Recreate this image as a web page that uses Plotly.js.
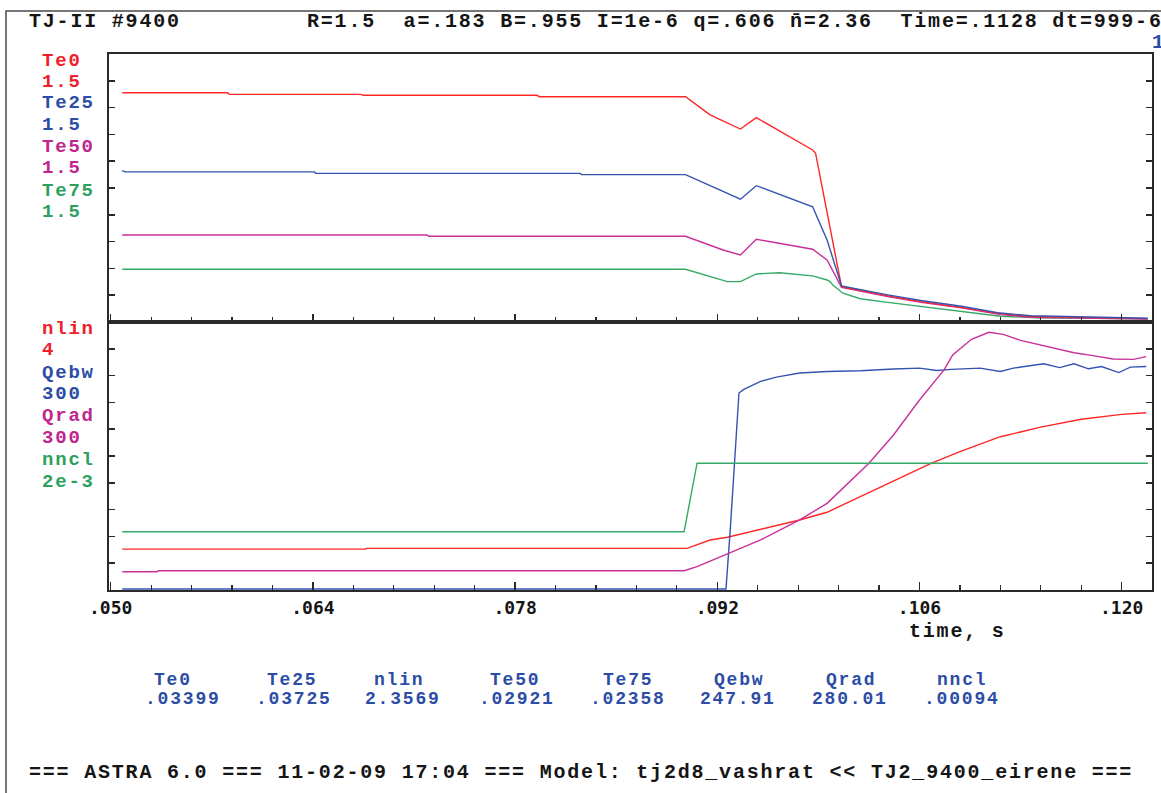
<!DOCTYPE html>
<html>
<head>
<meta charset="utf-8">
<script src="https://cdn.plot.ly/plotly-3.0.1.min.js"></script>
<style>
  html, body { margin: 0; padding: 0; background: #ffffff; overflow: hidden; }
  #chart { width: 1161px; height: 793px; }
  .annotation-text { letter-spacing: 1.8px; }
</style>
</head>
<body>
<div id="chart"></div>
<script>
// ---------------- DATA ----------------
// Top panel: electron temperatures (scale 1.5 for all)
const te0Time  = [0.0508, 0.0581, 0.0582, 0.0673, 0.0675, 0.0795, 0.0797, 0.0898, 0.0915, 0.0936, 0.0947, 0.0986, 0.0988, 0.1006, 0.1038, 0.1061, 0.1089, 0.1116, 0.1137, 0.1174, 0.1218];
const te0Val   = [1.283, 1.283, 1.274, 1.274, 1.269, 1.269, 1.261, 1.261, 1.159, 1.080, 1.144, 0.963, 0.946, 0.198, 0.146, 0.114, 0.082, 0.047, 0.031, 0.025, 0.019];

const te25Time = [0.0508, 0.0510, 0.0641, 0.0642, 0.0825, 0.0826, 0.0898, 0.0936, 0.0947, 0.0986, 0.0996, 0.1006, 0.1038, 0.1061, 0.1089, 0.1116, 0.1137, 0.1174, 0.1218];
const te25Val  = [0.847, 0.840, 0.840, 0.832, 0.832, 0.825, 0.825, 0.687, 0.763, 0.645, 0.459, 0.202, 0.152, 0.120, 0.088, 0.050, 0.035, 0.028, 0.021];

const te50Time = [0.0508, 0.0719, 0.0720, 0.0898, 0.0924, 0.0936, 0.0947, 0.0954, 0.0986, 0.0996, 0.1006, 0.1038, 0.1061, 0.1089, 0.1116, 0.1137, 0.1174, 0.1218];
const te50Val  = [0.487, 0.487, 0.480, 0.480, 0.403, 0.375, 0.463, 0.453, 0.407, 0.347, 0.194, 0.142, 0.110, 0.079, 0.041, 0.027, 0.022, 0.017];

const te75Time = [0.0508, 0.0898, 0.0927, 0.0936, 0.0947, 0.0963, 0.0986, 0.0996, 0.0998, 0.1000, 0.1007, 0.1019, 0.1038, 0.1061, 0.1089, 0.1116, 0.1142, 0.1218];
const te75Val  = [0.295, 0.295, 0.226, 0.226, 0.269, 0.276, 0.258, 0.235, 0.226, 0.207, 0.161, 0.130, 0.110, 0.086, 0.058, 0.032, 0.024, 0.018];

// Bottom panel
const nlinTime = [0.0508, 0.0676, 0.0677, 0.0899, 0.0915, 0.0927, 0.0977, 0.0996, 0.1019, 0.1042, 0.1068, 0.1088, 0.1116, 0.1130, 0.1143, 0.1172, 0.1200, 0.1217];
const nlinVal  = [0.610, 0.610, 0.622, 0.622, 0.746, 0.787, 1.045, 1.160, 1.393, 1.627, 1.891, 2.064, 2.288, 2.358, 2.428, 2.548, 2.622, 2.646];

const qebwTime = [0.0508, 0.0926, 0.0929, 0.0932, 0.0934, 0.0935, 0.0938, 0.0950, 0.0961, 0.0977, 0.0996, 0.1019, 0.1042, 0.1060, 0.1072, 0.1082, 0.1102, 0.1116, 0.1125, 0.1146, 0.1157, 0.1167, 0.1177, 0.1186, 0.1198, 0.1206, 0.1217];
const qebwVal  = [0.0, 0.0, 67.2, 145.5, 205.0, 220.2, 223.9, 233.2, 238.1, 242.6, 244.4, 245.2, 247.1, 248.2, 245.5, 246.8, 248.2, 244.4, 248.2, 253.0, 248.8, 253.0, 247.4, 250.0, 243.2, 249.3, 250.0];

const qradTime = [0.0508, 0.0532, 0.0533, 0.0897, 0.0906, 0.0927, 0.0950, 0.0977, 0.0996, 0.1025, 0.1042, 0.1060, 0.1077, 0.1083, 0.1096, 0.1108, 0.1118, 0.1130, 0.1153, 0.1167, 0.1180, 0.1194, 0.1208, 0.1217];
const qradVal  = [20.5, 20.5, 21.6, 21.6, 26.1, 40.3, 56.0, 78.4, 97.0, 141.8, 173.5, 212.7, 246.3, 263.1, 280.6, 288.5, 286.2, 279.5, 270.6, 265.6, 262.3, 258.6, 258.2, 261.2];

const ncclTime = [0.0508, 0.0897, 0.0906, 0.1218];
const ncclVal  = [0.000435, 0.000435, 0.000946, 0.000946];

// Axis ticks
const xTickVals = [0.050, 0.064, 0.078, 0.092, 0.106, 0.120];
const xTickText = ['.050', '.064', '.078', '.092', '.106', '.120'];

// Texts
const headerLeft  = 'TJ-II #9400';
const headerRight = 'R=1.5\u00a0\u00a0a=.183 B=.955 I=1e-6 q=.606 n\u0304=2.36\u00a0\u00a0Time=.1128 dt=999-6';
const topLabels   = ['Te0', '1.5', 'Te25', '1.5', 'Te50', '1.5', 'Te75', '1.5'];
const botLabels   = ['nlin', '4', 'Qebw', '300', 'Qrad', '300', 'nncl', '2e-3'];
const statNames   = ['Te0', 'Te25', 'nlin', 'Te50', 'Te75', 'Qebw', 'Qrad', 'nncl'];
const statValues  = ['.03399', '.03725', '2.3569', '.02921', '.02358', '247.91', '280.01', '.00094'];
const footerText  = '=== ASTRA 6.0 === 11-02-09 17:04 === Model: tj2d8_vashrat << TJ2_9400_eirene ===';
const xTitle      = 'time, s';

// ---------------- STYLE ----------------
const RED = '#ff2626', BLUE = '#3454b0', MAG = '#c8309a', GRN = '#35aa66';
const RED_T = '#f0202a', BLUE_T = '#2c4ca6', MAG_T = '#c0268e', GRN_T = '#2ea05e';
const topColors = [RED_T, RED_T, BLUE_T, BLUE_T, MAG_T, MAG_T, GRN_T, GRN_T];
const botColors = [RED_T, RED_T, BLUE_T, BLUE_T, MAG_T, MAG_T, GRN_T, GRN_T];
const MONO = '"Liberation Mono", "DejaVu Sans Mono", monospace';
const LW = 1.4;

// pixel -> paper helpers for text placement (plot area: x 109..1152, y 54..590)
const PX = p => (p - 109) / 1043;
const PY = p => (590 - p) / 536;

function line(x, y, color, xa, ya) {
  return { x: x, y: y, type: 'scatter', mode: 'lines', xaxis: xa, yaxis: ya,
           line: { color: color, width: LW }, hoverinfo: 'skip', showlegend: false };
}

const data = [
  line(te75Time, te75Val, GRN, 'x2', 'y2'),
  line(te50Time, te50Val, MAG, 'x2', 'y2'),
  line(te0Time,  te0Val,  RED, 'x2', 'y2'),
  line(te25Time, te25Val, BLUE, 'x2', 'y2'),
  line(ncclTime, ncclVal, GRN, 'x', 'y5'),
  line(nlinTime, nlinVal, RED, 'x', 'y'),
  line(qradTime, qradVal, MAG, 'x', 'y4'),
  line(qebwTime, qebwVal, BLUE, 'x', 'y3')
];

const annotations = [];
function txt(text, x, y, color, size, anchor, family) {
  annotations.push({ text: '<b>' + text + '</b>', xref: 'paper', yref: 'paper', x: PX(x), y: PY(y),
    xanchor: anchor || 'left', yanchor: 'middle', showarrow: false,
    font: { family: family || MONO, size: size, color: color } });
}
txt(headerLeft, 27, 21, '#151515', 20);
txt(headerRight, 305, 21, '#151515', 20);
txt('1', 1150, 42, BLUE_T, 20);
const topY = [60.7, 82.3, 103, 125, 147, 168, 190.7, 212];
topLabels.forEach((t, i) => txt(t, 40, topY[i], topColors[i], 19));
const botY = [329, 350, 372.7, 394, 416, 437.7, 460, 482];
botLabels.forEach((t, i) => txt(t, 40, botY[i], botColors[i], 19));
txt(xTitle, 957, 631, '#151515', 20, 'center');
const nameX = [173, 292, 399, 515, 628, 739, 851, 962];
const valX  = [182.5, 293.5, 402.5, 516.5, 627.5, 738, 850, 961.5];
statNames.forEach((t, i) => txt(t, nameX[i], 680, BLUE_T, 18, 'center'));
statValues.forEach((t, i) => txt(t, valX[i], 699, BLUE_T, 18, 'center'));
txt(footerText, 27, 772, '#151515', 20);

const AX = '#2a2a2a';
const xBase = {
  range: [0.049882, 0.122098], showgrid: false, zeroline: false,
  showline: true, linecolor: AX, linewidth: 2, mirror: true,
  ticks: 'inside', ticklen: 8, tickwidth: 1.5, tickcolor: AX,
  tickmode: 'array', tickvals: xTickVals, ticktext: xTickText,
  minor: { ticks: 'inside', ticklen: 5, tickwidth: 1.2, tickcolor: AX, tickmode: 'linear', tick0: 0.05, dtick: 0.0028, showgrid: false },
  fixedrange: true
};
const yBase = {
  showgrid: false, zeroline: false, showline: true, linecolor: AX, linewidth: 2,
  mirror: 'ticks', ticks: 'inside', ticklen: 6, tickwidth: 1.5, tickcolor: AX,
  showticklabels: false, fixedrange: true
};

const layout = {
  width: 1161, height: 793, autosize: false,
  paper_bgcolor: '#ffffff', plot_bgcolor: '#ffffff',
  margin: { l: 109, r: 9, t: 54, b: 203, pad: 0 },
  showlegend: false,
  xaxis: Object.assign({}, xBase, { anchor: 'y', domain: [0, 1], showticklabels: true,
    tickfont: { family: '"DejaVu Sans Mono", monospace', size: 18, color: '#151515', weight: 'bold' } }),
  xaxis2: Object.assign({}, xBase, { anchor: 'y2', domain: [0, 1], showticklabels: false, matches: 'x' }),
  yaxis: Object.assign({}, yBase, { domain: [0, 0.5], range: [0, 4], tickmode: 'linear', tick0: 0, dtick: 0.4, anchor: 'x' }),
  yaxis2: Object.assign({}, yBase, { domain: [0.5, 1], range: [0, 1.5], tickmode: 'linear', tick0: 0, dtick: 0.15, anchor: 'x2' }),
  yaxis3: { overlaying: 'y', range: [-1.2, 300], visible: false, fixedrange: true },
  yaxis4: { overlaying: 'y', range: [0, 300], visible: false, fixedrange: true },
  yaxis5: { overlaying: 'y', range: [0, 0.002], visible: false, fixedrange: true },
  annotations: annotations,
  shapes: [{
    type: 'rect', xref: 'paper', yref: 'paper', layer: 'below',
    x0: PX(6), x1: PX(1175), y0: PY(810), y1: PY(11),
    line: { color: '#4a4a4a', width: 1.5 }, fillcolor: 'rgba(0,0,0,0)'
  }]
};

Plotly.newPlot('chart', data, layout, { staticPlot: true, displayModeBar: false });
</script>
</body>
</html>
